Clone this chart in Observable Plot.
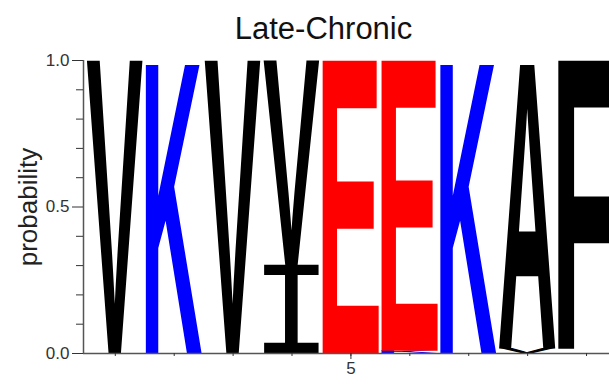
<!DOCTYPE html>
<html><head><meta charset="utf-8">
<script src="https://cdn.jsdelivr.net/npm/d3@7"></script>
<script src="https://cdn.jsdelivr.net/npm/@observablehq/plot@0.6"></script>
<style>html,body{margin:0;padding:0;background:#fff;overflow:hidden}</style>
</head><body><div id="chart"></div>
<script>
const title = "Late-Chronic";
const yLabel = "probability";
// sequence logo: letters stacked bottom-to-top at each position
const positions = [1, 2, 3, 4, 4, 5, 6, 6, 7, 8, 8, 9];
const letters   = ["V", "K", "V", "I", "V", "E", "K", "E", "K", "V", "A", "F"];
const probs     = [1, 1, 1, 0.30, 0.70, 1, 0.008, 0.992, 1, 0.015, 0.985, 1];
const letterColors = {V: "#000000", K: "#0000ff", I: "#000000", E: "#ff0000", A: "#000000", F: "#000000"};
const xTicks = [1, 2, 3, 4, 5, 6, 7, 8, 9];
const xLabelTicks = [5];
const yMajorTicks = [0, 0.5, 1];
const yMinorTicks = [0.1, 0.2, 0.3, 0.4, 0.6, 0.7, 0.8, 0.9];
const xDomain = [0.46, 9.39];

const rows = [];
const tops = {};
positions.forEach((p, i) => {
  const y1 = tops[p] || 0;
  const y2 = y1 + probs[i];
  tops[p] = y2;
  rows.push({pos: p, letter: letters[i], y1, y2, color: letterColors[letters[i]]});
});

const svg = Plot.plot({
  width: 609, height: 387,
  marginLeft: 83, marginRight: 0, marginTop: 60, marginBottom: 34,
  style: {background: "#fff", fontFamily: "'Liberation Sans', Arial, sans-serif", overflow: "hidden"},
  x: {domain: xDomain, axis: null, label: null},
  y: {domain: [0, 1], axis: null, label: null},
  color: {type: "identity"},
  marks: [
    Plot.rect(rows, {x1: d => d.pos - 0.5, x2: d => d.pos + 0.5, y1: "y1", y2: "y2", fill: "color", insetLeft: 1, insetRight: 1, ariaDescription: "logo"}),
    Plot.ruleY([0], {stroke: "#555", strokeWidth: 1.5}),
    Plot.ruleX([xDomain[0]], {stroke: "#555", strokeWidth: 1.5}),
    Plot.axisY(yMinorTicks, {tickSize: 7, tickFormat: () => "", stroke: "#333", label: null}),
    Plot.axisY(yMajorTicks, {tickSize: 11, tickPadding: 3, tickFormat: d3.format(".1f"), fontSize: 17, fill: "#333", stroke: "#333", label: null}),
    Plot.axisX(xTicks, {tickSize: 3, tickFormat: () => "", stroke: "#333", label: null}),
    Plot.axisX(xLabelTicks, {tickSize: 6, tickPadding: 2, tickFormat: d3.format("d"), fontSize: 17, fill: "#333", stroke: "#333", label: null}),
    Plot.text([yLabel], {frameAnchor: "left", rotate: -90, dx: -55, fontSize: 26, lineAnchor: "middle", textAnchor: "middle", fill: "#222"}),
    Plot.text([title], {frameAnchor: "top", dx: -23, dy: -22, lineAnchor: "bottom", fontSize: 31, fill: "#111"})
  ]
});

// Replace each rect with its letter stretched to fill the rect
const canvas = document.createElement("canvas");
const ctx = canvas.getContext("2d");
const fontFor = l => l === "I" ? "'Liberation Mono'" : "'Liberation Sans'";
const weightFor = l => l === "I" ? "normal" : "bold";
const g = svg.querySelector('g[aria-description="logo"]') || svg.querySelector('g[aria-label="rect"]');
const rects = Array.from(g.querySelectorAll("rect"));
rects.forEach((r, i) => {
  const x = +r.getAttribute("x"), y = +r.getAttribute("y");
  const w = +r.getAttribute("width"), h = +r.getAttribute("height");
  const d = rows[i];
  ctx.font = `${weightFor(d.letter)} 100px ${fontFor(d.letter)}`;
  ctx.textAlign = "left";
  ctx.textBaseline = "alphabetic";
  const m = ctx.measureText(d.letter);
  const L = m.actualBoundingBoxLeft, R = m.actualBoundingBoxRight;
  const A = m.actualBoundingBoxAscent, D = m.actualBoundingBoxDescent;
  const sx = w / (L + R), sy = h / (A + D);
  const t = document.createElementNS("http://www.w3.org/2000/svg", "text");
  t.textContent = d.letter;
  t.setAttribute("font-family", fontFor(d.letter));
  t.setAttribute("font-weight", weightFor(d.letter));
  t.setAttribute("font-size", "100");
  t.setAttribute("text-anchor", "start");
  t.setAttribute("dominant-baseline", "alphabetic");
  t.setAttribute("fill", r.getAttribute("fill") || d.color);
  t.setAttribute("transform", `translate(${x},${y}) scale(${sx},${sy}) translate(${L},${A})`);
  g.appendChild(t);
  r.remove();
});

document.getElementById("chart").appendChild(svg);
</script>
</body></html>
